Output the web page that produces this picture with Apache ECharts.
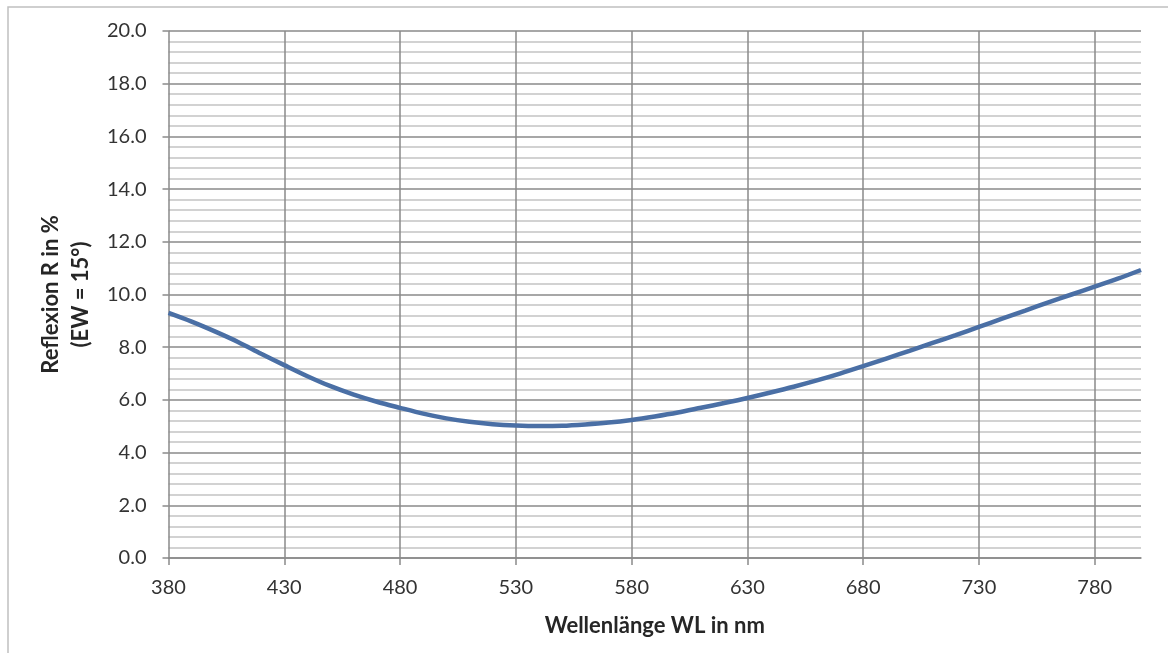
<!DOCTYPE html>
<html>
<head>
<meta charset="utf-8">
<script src="https://cdn.jsdelivr.net/npm/echarts@6/dist/echarts.min.js"></script>
<style>
html,body{margin:0;padding:0;background:#fff;}
#chart{width:1168px;height:653px;}
</style>
</head>
<body>
<div id="chart"></div>
<script>
const wavelengths = [380,390,400,410,420,430,440,450,460,470,480,490,500,510,520,530,540,550,560,570,580,590,600,610,620,630,640,650,660,670,680,690,700,710,720,730,740,750,760,770,780,790,800];
const reflexion = [9.3,8.97,8.6,8.2,7.75,7.32,6.9,6.52,6.2,5.93,5.7,5.48,5.3,5.17,5.08,5.03,5.01,5.02,5.07,5.14,5.24,5.37,5.52,5.7,5.88,6.07,6.28,6.5,6.74,7.0,7.28,7.57,7.86,8.16,8.46,8.77,9.08,9.39,9.7,10.0,10.3,10.6,10.93];
const xTicks = [380,430,480,530,580,630,680,730,780];
const yTicks = [0,2,4,6,8,10,12,14,16,18,20];
const xTitle = 'Wellenlänge WL in nm';
const yTitle = 'Reflexion R in %\n(EW = 15°)';

const chart = echarts.init(document.getElementById('chart'));
const font = 'Lato, "Open Sans", sans-serif';
chart.setOption({
  backgroundColor: '#ffffff',
  animation: false,
  graphic: [{
    type: 'rect', silent: true,
    shape: {x: 8, y: 7, width: 1300, height: 800},
    style: {fill: 'none', stroke: '#c0c0c0', lineWidth: 1.5}
  }],
  grid: {left: 168.5, top: 31, right: 27, bottom: 95, containLabel: false},
  xAxis: {
    type: 'value',
    min: xTicks[0], max: 800, interval: 50,
    name: xTitle,
    nameLocation: 'middle', nameGap: 57,
    nameTextStyle: {fontFamily: font, fontSize: 22, fontWeight: 'bold', color: '#262626'},
    axisLine: {show: true, lineStyle: {color: '#8a8a8a', width: 1.5}},
    axisTick: {show: true, length: 7, lineStyle: {color: '#8a8a8a', width: 1.5}, customValues: xTicks},
    axisLabel: {margin: 20, fontFamily: font, fontSize: 20, color: '#333', customValues: xTicks},
    splitLine: {show: true, showMinLine: false, lineStyle: {color: '#8a8a8a', width: 1.5}}
  },
  yAxis: {
    type: 'value',
    min: yTicks[0], max: yTicks[yTicks.length-1], interval: 2,
    name: yTitle,
    nameLocation: 'middle', nameGap: 63, nameRotate: 90,
    nameTextStyle: {fontFamily: font, fontSize: 22, fontWeight: 'bold', color: '#262626', lineHeight: 30, align: 'center'},
    axisLine: {show: true, lineStyle: {color: '#8a8a8a', width: 1.5}},
    axisTick: {show: true, length: 6, lineStyle: {color: '#8a8a8a', width: 1.5}},
    axisLabel: {margin: 22, fontFamily: font, fontSize: 20, color: '#333', formatter: v => v.toFixed(1)},
    splitLine: {show: true, lineStyle: {color: '#8a8a8a', width: 1.5}},
    minorTick: {show: false, splitNumber: 5},
    minorSplitLine: {show: true, lineStyle: {color: '#c4c4c4', width: 1.5}}
  },
  series: [{
    type: 'line',
    data: wavelengths.map((w, i) => [w, reflexion[i]]),
    smooth: 0.3,
    showSymbol: false,
    lineStyle: {color: '#4a6fa5', width: 4.5},
    itemStyle: {color: '#4a6fa5'}
  }]
});
</script>
</body>
</html>
